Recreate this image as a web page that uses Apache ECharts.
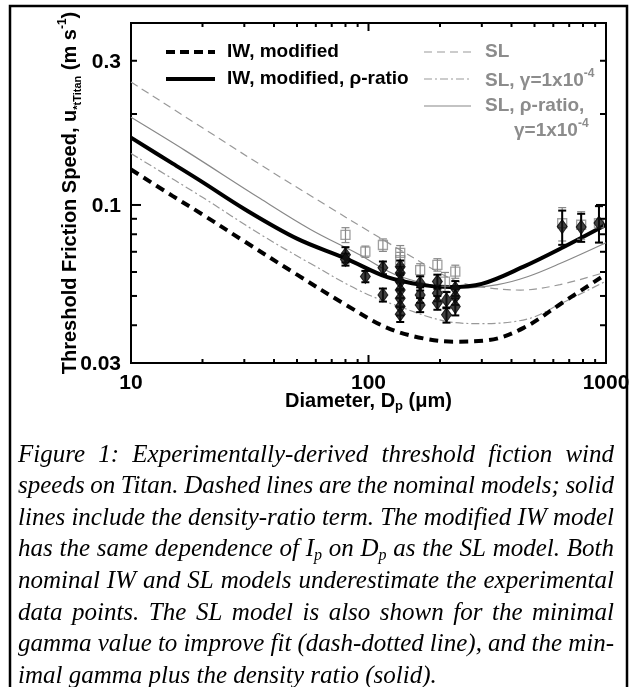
<!DOCTYPE html>
<html><head><meta charset="utf-8">
<script src="https://cdn.jsdelivr.net/npm/echarts@6/dist/echarts.min.js"></script>
<style>html,body{margin:0;padding:0;background:#fff}#c{width:634px;height:687px}</style>
</head><body><div id="c"></div>
<script>
// ---------- data ----------
const iwModifiedD = [10, 15, 20, 30, 50, 80, 120, 170, 230, 320, 450, 650, 1000];
const iwModifiedU = [0.131, 0.107, 0.093, 0.0758, 0.0588, 0.0468, 0.0392, 0.0362, 0.0353, 0.0357, 0.0392, 0.0473, 0.059];

const iwRhoD = [10, 15, 20, 30, 50, 80, 120, 170, 220, 300, 450, 650, 1000];
const iwRhoU = [0.167, 0.137, 0.119, 0.097, 0.0774, 0.0666, 0.0577, 0.0543, 0.0535, 0.0548, 0.0625, 0.072, 0.086];

const slD = [10, 20, 35, 66, 100, 136, 200, 243, 300, 436, 640, 1000];
const slU = [0.255, 0.18, 0.136, 0.1, 0.082, 0.071, 0.0595, 0.0555, 0.0535, 0.0523, 0.0545, 0.06];

const slGammaD = [10, 20, 35, 57, 92, 136, 213, 300, 470, 640, 1000];
const slGammaU = [0.148, 0.106, 0.080, 0.064, 0.052, 0.046, 0.0412, 0.0405, 0.042, 0.047, 0.056];

const slRhoGammaD = [10, 17, 35, 57, 90, 136, 243, 350, 470, 640, 1000];
const slRhoGammaU = [0.195, 0.151, 0.105, 0.083, 0.069, 0.058, 0.0531, 0.0545, 0.058, 0.064, 0.075];

// experimental points (black diamonds) : diameter, speed, error
const expD   = [80, 80, 97, 115, 115, 136, 136, 136, 136, 136, 136, 136, 165, 165, 165, 195, 195, 195, 213, 213, 232, 232, 232, 654, 786, 934];
const expU   = [0.0685, 0.066, 0.058, 0.062, 0.0504, 0.0625, 0.0595, 0.0557, 0.0523, 0.0491, 0.0461, 0.0435, 0.0551, 0.0504, 0.0467, 0.0558, 0.051, 0.0475, 0.0485, 0.0433, 0.053, 0.0497, 0.0461, 0.0848, 0.0845, 0.0871];
const expErr = [0.004, 0.003, 0.0025, 0.003, 0.0025, 0.003, 0.003, 0.003, 0.003, 0.003, 0.003, 0.0025, 0.003, 0.003, 0.0025, 0.003, 0.003, 0.0025, 0.003, 0.0025, 0.003, 0.003, 0.003, 0.011, 0.009, 0.012];

// gray open squares : diameter, speed, error
const sqD   = [80, 97, 115, 136, 136, 165, 195, 210, 232, 654, 786, 934];
const sqU   = [0.0796, 0.0701, 0.0737, 0.0694, 0.0657, 0.0609, 0.0634, 0.0558, 0.0602, 0.087, 0.086, 0.087];
const sqErr = [0.0045, 0.003, 0.0035, 0.004, 0.004, 0.003, 0.003, 0.004, 0.003, 0.011, 0.009, 0.012];

// ticks and labels
const xMin = 10, xMax = 1000, yMin = 0.03, yMax = 0.4;
const xTickValues = [20, 30, 40, 50, 60, 70, 80, 90, 100, 200, 300, 400, 500, 600, 700, 800, 900];
const xMajorTicks = [100];
const xLabelValues = [10, 100, 1000];
const xTickLabels = ['10', '100', '1000'];
const yTickValues = [0.04, 0.05, 0.06, 0.07, 0.08, 0.09, 0.1, 0.2, 0.3];
const yMajorTicks = [0.1];
const yLabelValues = [0.03, 0.1, 0.3];
const yTickLabels = ['0.03', '0.1', '0.3'];

const captionLines = [
  "Figure 1: Experimentally-derived threshold fiction wind",
  "speeds on Titan. Dashed lines are the nominal models; solid",
  "lines include the density-ratio term.  The modified IW model",
  "has the same dependence of I{s|p} on D{s|p} as the SL model.  Both",
  "nominal IW and SL models underestimate the experimental",
  "data points.  The SL model is also shown for the minimal",
  "gamma value to improve fit (dash-dotted line), and the min-",
  "imal gamma plus the density ratio (solid)."
];

// ---------- chart ----------
const SANS = '"Liberation Sans", Arial, Helvetica, sans-serif';
const SANSF = 'Liberation Sans';
const SERIF = '"Liberation Serif", "Times New Roman", serif';
const GRAY = '#8c8c8c';
const zip = (a, b) => a.map((v, i) => [v, b[i]]);
const zip3 = (a, b, c) => a.map((v, i) => [v, b[i], c[i]]);

function errRender(color, lw, cap) {
  return function (params, api) {
    const x = api.value(0), y = api.value(1), e = api.value(2);
    const p1 = api.coord([x, y + e]), p2 = api.coord([x, y - e]);
    const st = { stroke: color, lineWidth: lw, fill: null };
    return { type: 'group', children: [
      { type: 'line', shape: { x1: p1[0], y1: p1[1], x2: p2[0], y2: p2[1] }, style: st },
      { type: 'line', shape: { x1: p1[0] - cap, y1: p1[1], x2: p1[0] + cap, y2: p1[1] }, style: st },
      { type: 'line', shape: { x1: p2[0] - cap, y1: p2[1], x2: p2[0] + cap, y2: p2[1] }, style: st }
    ]};
  };
}

function yTickRender(params, api) {
  const v = api.value(1);
  const L = api.coord([xMin, v]), R = api.coord([xMax, v]);
  const len = yMajorTicks.indexOf(v) >= 0 ? 10 : 6;
  const st = { stroke: '#000', lineWidth: 2 };
  const ch = [];
  if (yTickValues.indexOf(v) >= 0) {
    ch.push({ type: 'line', shape: { x1: L[0], y1: L[1], x2: L[0] + len, y2: L[1] }, style: st });
    ch.push({ type: 'line', shape: { x1: R[0], y1: R[1], x2: R[0] - len, y2: R[1] }, style: st });
  }
  const li = yLabelValues.indexOf(v);
  if (li >= 0) ch.push({ type: 'text', style: { text: yTickLabels[li], x: L[0] - 10, y: L[1] + 1, align: 'right', verticalAlign: 'middle', font: 'bold 21px ' + SANS, fill: '#000' } });
  return { type: 'group', children: ch };
}
function xTickRender(params, api) {
  const v = api.value(0);
  const B = api.coord([v, yMin]), T = api.coord([v, yMax]);
  const len = xMajorTicks.indexOf(v) >= 0 ? 8 : 4;
  const st = { stroke: '#000', lineWidth: 2 };
  const ch = [];
  if (xTickValues.indexOf(v) >= 0) {
    ch.push({ type: 'line', shape: { x1: B[0], y1: B[1], x2: B[0], y2: B[1] - len }, style: st });
    ch.push({ type: 'line', shape: { x1: T[0], y1: T[1], x2: T[0], y2: T[1] + len }, style: st });
  }
  const li = xLabelValues.indexOf(v);
  if (li >= 0) ch.push({ type: 'text', style: { text: xTickLabels[li], x: B[0], y: B[1] + 10, align: 'center', verticalAlign: 'top', font: 'bold 21px ' + SANS, fill: '#000' } });
  return { type: 'group', children: ch };
}
const yTickData = Array.from(new Set(yTickValues.concat(yLabelValues))).map(v => [xMin, v]);
const xTickData = Array.from(new Set(xTickValues.concat(xLabelValues))).map(v => [v, yMin]);

// ---------- caption layout (justified) ----------
const CAP_SIZE = 25, CAP_SUB = 16;
const capFont = 'italic ' + CAP_SIZE + 'px ' + SERIF;
const capSubFont = 'italic ' + CAP_SUB + 'px ' + SERIF;
const mctx = document.createElement('canvas').getContext('2d');
function measureWord(w) {
  let total = 0;
  const re = /\{s\|([^}]*)\}/g; let m, last = 0;
  while ((m = re.exec(w)) !== null) {
    mctx.font = capFont; total += mctx.measureText(w.slice(last, m.index)).width;
    mctx.font = capSubFont; total += mctx.measureText(m[1]).width;
    last = re.lastIndex;
  }
  mctx.font = capFont; total += mctx.measureText(w.slice(last)).width;
  return total;
}
function richWord(w) {
  return w.replace(/([^{}|]+)(?=\{s\||$)/g, (s) => s ? '{m|' + s + '}' : s);
}
const capLeft = 18, capRight = 614, capTop = 455, capStep = 31.6;
const captionEls = [];
captionLines.forEach((line, li) => {
  const words = line.split(/\s+/);
  const widths = words.map(measureWord);
  const sum = widths.reduce((a, b) => a + b, 0);
  mctx.font = capFont;
  const isLast = li === captionLines.length - 1;
  let gap = isLast ? mctx.measureText(' ').width : (capRight - capLeft - sum) / (words.length - 1);
  let x = capLeft;
  words.forEach((w, wi) => {
    captionEls.push({ type: 'text', silent: true, style: {
      text: richWord(w), x: x, y: capTop + li * capStep, verticalAlign: 'middle', fill: '#000',
      font: capFont,
      rich: { m: { font: capFont, lineHeight: 28, verticalAlign: 'middle', fill: '#000' },
              s: { font: capSubFont, verticalAlign: 'bottom', fill: '#000' } }
    }});
    x += widths[wi] + gap;
  });
});

// ---------- legend (drawn) ----------
const LF = 'bold 19px ' + SANS;
const legRich = {
  n: { font: LF, lineHeight: 22, verticalAlign: 'bottom', fill: GRAY },
  p: { font: 'bold 12px ' + SANS, verticalAlign: 'top', fill: GRAY }
};
const legendEls = [
  { type: 'line', shape: { x1: 166, y1: 52, x2: 215, y2: 52 }, style: { stroke: '#000', lineWidth: 4, lineDash: [9, 5] } },
  { type: 'text', style: { text: 'IW, modified', x: 227, y: 52, verticalAlign: 'middle', font: LF, fill: '#000' } },
  { type: 'line', shape: { x1: 166, y1: 79, x2: 215, y2: 79 }, style: { stroke: '#000', lineWidth: 4 } },
  { type: 'text', style: { text: 'IW, modified, ρ-ratio', x: 227, y: 79, verticalAlign: 'middle', font: LF, fill: '#000' } },
  { type: 'line', shape: { x1: 424, y1: 52, x2: 471, y2: 52 }, style: { stroke: '#999', lineWidth: 1.2, lineDash: [8, 5] } },
  { type: 'text', style: { text: 'SL', x: 485, y: 52, verticalAlign: 'middle', font: LF, fill: GRAY } },
  { type: 'line', shape: { x1: 424, y1: 79, x2: 471, y2: 79 }, style: { stroke: '#999', lineWidth: 1.2, lineDash: [8, 3, 2, 3] } },
  { type: 'text', style: { text: '{n|SL, γ=1x10}{p|-4}', x: 485, y: 79, verticalAlign: 'middle', rich: legRich } },
  { type: 'line', shape: { x1: 424, y1: 106, x2: 471, y2: 106 }, style: { stroke: '#888', lineWidth: 1.2 } },
  { type: 'text', style: { text: 'SL, ρ-ratio,', x: 485, y: 106, verticalAlign: 'middle', font: LF, fill: GRAY } },
  { type: 'text', style: { text: '{n|γ=1x10}{p|-4}', x: 514, y: 129, verticalAlign: 'middle', rich: legRich } }
];

const chart = echarts.init(document.getElementById('c'), null, { renderer: 'canvas' });
chart.setOption({
  animation: false,
  backgroundColor: '#fff',
  grid: { left: 131, right: 28, top: 23, bottom: 324, containLabel: false, outerBoundsMode: 'none',
          show: true, borderColor: '#000', borderWidth: 2, backgroundColor: 'transparent' },
  xAxis: {
    type: 'log', logBase: 10, min: xMin, max: xMax,
    axisLine: { show: false }, axisTick: { show: false }, axisLabel: { show: false }, splitLine: { show: false }, minorTick: { show: false },
    name: '{n|Diameter, D}{s|p}{n| (μm)}', nameLocation: 'middle', nameGap: 26, nameMoveOverlap: false,
    nameTextStyle: { rich: {
      n: { fontSize: 20, fontWeight: 'bold', fontFamily: SANSF, color: '#000', lineHeight: 24, verticalAlign: 'middle' },
      s: { fontSize: 13, fontWeight: 'bold', fontFamily: SANSF, color: '#000', verticalAlign: 'bottom' } } }
  },
  yAxis: {
    type: 'log', logBase: 10, min: yMin, max: yMax,
    axisLine: { show: false }, axisTick: { show: false }, axisLabel: { show: false }, splitLine: { show: false }, minorTick: { show: false },
    name: '{n|Threshold Friction Speed, u}{s|*tTitan}{n| (m s}{p|-1}{n|)}', nameLocation: 'middle', nameRotate: 90, nameGap: 48, nameMoveOverlap: false,
    nameTextStyle: { rich: {
      n: { fontSize: 20, fontWeight: 'bold', fontFamily: SANSF, color: '#000', lineHeight: 26, verticalAlign: 'middle' },
      s: { fontSize: 11, fontWeight: 'bold', fontFamily: SANSF, color: '#000', verticalAlign: 'bottom' },
      p: { fontSize: 12, fontWeight: 'bold', fontFamily: SANSF, color: '#000', verticalAlign: 'top' } } }
  },
  series: [
    { type: 'line', name: 'SL', data: zip(slD, slU), symbol: 'none', smooth: 0.35, z: 2,
      lineStyle: { color: '#999', width: 1.2, type: [8, 5] } },
    { type: 'line', name: 'SL gamma', data: zip(slGammaD, slGammaU), symbol: 'none', smooth: 0.35, z: 2,
      lineStyle: { color: '#999', width: 1.2, type: [8, 3, 2, 3] } },
    { type: 'line', name: 'SL rho gamma', data: zip(slRhoGammaD, slRhoGammaU), symbol: 'none', smooth: 0.35, z: 2,
      lineStyle: { color: '#888', width: 1.2, type: 'solid' } },
    { type: 'line', name: 'IW modified', data: zip(iwModifiedD, iwModifiedU), symbol: 'none', smooth: 0.35, z: 3,
      lineStyle: { color: '#000', width: 4, type: [9, 6] } },
    { type: 'line', name: 'IW modified rho', data: zip(iwRhoD, iwRhoU), symbol: 'none', smooth: 0.35, z: 3,
      lineStyle: { color: '#000', width: 4, type: 'solid' } },
    { type: 'custom', name: 'sq err', data: zip3(sqD, sqU, sqErr), renderItem: errRender('#888', 1.2, 4), z: 4 },
    { type: 'scatter', name: 'squares', data: zip(sqD, sqU), symbol: 'rect', symbolSize: 9, z: 5,
      itemStyle: { color: 'rgba(255,255,255,0)', borderColor: '#888', borderWidth: 1.3 } },
    { type: 'custom', name: 'exp err', data: zip3(expD, expU, expErr), renderItem: errRender('#000', 2, 4), z: 6 },
    { type: 'scatter', name: 'diamonds', data: zip(expD, expU), symbol: 'diamond', symbolSize: [10, 14], z: 7,
      itemStyle: { color: '#111', borderColor: '#000', borderWidth: 1 } },
    { type: 'custom', name: 'yticks', data: yTickData, renderItem: yTickRender, clip: false, z: 10, silent: true },
    { type: 'custom', name: 'xticks', data: xTickData, renderItem: xTickRender, clip: false, z: 10, silent: true }
  ],
  graphic: [
    { type: 'rect', shape: { x: 10, y: 6, width: 617, height: 700 }, style: { stroke: '#000', lineWidth: 2.5, fill: null }, silent: true }
  ].concat(legendEls).concat(captionEls)
});
</script>
</body></html>
